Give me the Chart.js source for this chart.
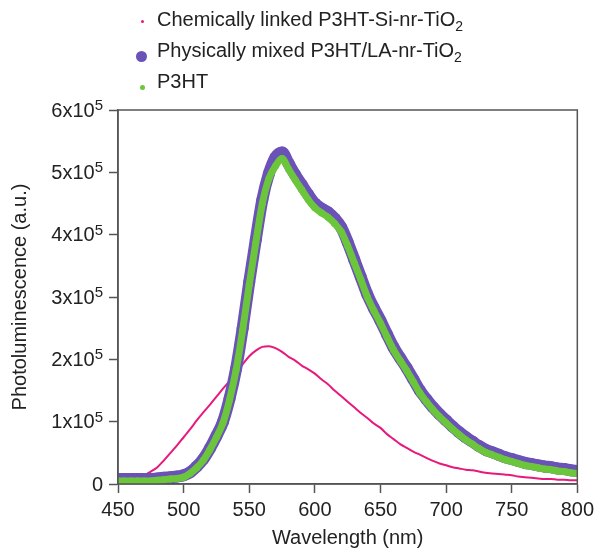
<!DOCTYPE html>
<html>
<head>
<meta charset="utf-8">
<script src="https://cdn.jsdelivr.net/npm/chart.js@4.4.1/dist/chart.umd.min.js"></script>
<style>
  html, body { margin:0; padding:0; background:#fff; }
  #wrap { position:relative; width:599px; height:550px; font-family:"Liberation Sans", Arial, Helvetica, sans-serif; }
  #legend { position:absolute; left:0; top:4px; font-size:20px; color:#222; }
  #legend .row { position:relative; height:31px; line-height:31px; padding-left:157px; white-space:nowrap; }
  #legend .dot { position:absolute; border-radius:50%; }
  #legend sub { font-size:14px; vertical-align:-5px; line-height:0; }
</style>
</head>
<body>
<div id="wrap">
  <canvas id="plChart" width="599" height="550"></canvas>
  <div id="legend">
    <div class="row"><span class="dot" style="left:141px;top:16px;width:3px;height:3px;background:#e8197c"></span>Chemically linked P3HT-Si-nr-TiO<sub>2</sub></div>
    <div class="row"><span class="dot" style="left:136px;top:16px;width:11px;height:11px;background:#6a52b8"></span>Physically mixed P3HT/LA-nr-TiO<sub>2</sub></div>
    <div class="row"><span class="dot" style="left:140px;top:19px;width:5px;height:5px;background:#6cc63c"></span>P3HT</div>
  </div>
</div>
<script>
// wavelength grid (nm) and intensities in units of 1x10^5
const wavelength = [450,455,460,465,470,475,480,485,490,495,500,505,510,515,520,525,530,535,540,545,550,555,560,565,570,575,580,585,590,595,600,605,610,615,620,625,630,635,640,645,650,655,660,665,670,675,680,685,690,695,700,705,710,715,720,725,730,735,740,745,750,755,760,765,770,775,780,785,790,795,800];

const chemLinked = [0.02,0.02,0.04,0.08,0.14,0.20,0.27,0.38,0.50,0.62,0.75,0.88,1.02,1.15,1.27,1.40,1.53,1.65,1.78,1.92,2.05,2.14,2.20,2.21,2.18,2.12,2.04,1.98,1.90,1.84,1.77,1.68,1.60,1.50,1.41,1.32,1.23,1.14,1.06,0.97,0.90,0.80,0.72,0.64,0.58,0.52,0.47,0.42,0.37,0.33,0.30,0.27,0.25,0.23,0.22,0.20,0.18,0.17,0.16,0.15,0.14,0.12,0.11,0.10,0.09,0.08,0.08,0.07,0.07,0.06,0.06];

const physMixed = [0.08,0.08,0.08,0.08,0.08,0.08,0.09,0.10,0.11,0.12,0.14,0.19,0.28,0.40,0.57,0.77,1.00,1.37,1.85,2.50,3.24,3.92,4.56,4.98,5.24,5.32,5.14,4.96,4.80,4.64,4.50,4.42,4.36,4.26,4.12,3.88,3.60,3.32,3.04,2.82,2.62,2.40,2.19,2.02,1.86,1.68,1.50,1.36,1.23,1.12,1.02,0.92,0.83,0.75,0.68,0.61,0.55,0.51,0.47,0.43,0.40,0.37,0.34,0.32,0.30,0.28,0.27,0.25,0.24,0.22,0.21];

const p3ht = [0.05,0.05,0.05,0.05,0.05,0.05,0.06,0.07,0.08,0.09,0.11,0.17,0.26,0.38,0.55,0.75,0.98,1.35,1.83,2.47,3.20,3.87,4.50,4.90,5.10,5.22,5.05,4.88,4.72,4.56,4.43,4.35,4.28,4.18,4.05,3.82,3.55,3.28,3.00,2.78,2.58,2.36,2.15,1.98,1.82,1.64,1.46,1.32,1.19,1.08,0.98,0.88,0.79,0.71,0.64,0.57,0.51,0.47,0.43,0.39,0.36,0.33,0.30,0.28,0.26,0.24,0.23,0.21,0.20,0.18,0.17];

const xTicks = [450,500,550,600,650,700,750,800];
const yTicks = [0,1,2,3,4,5,6];

const toPoints = vals => vals.map((v,i)=>({x: wavelength[i], y: v}));

const axisColor = '#555';
const fontFamily = '"Liberation Sans", Arial, Helvetica, sans-serif';

// box edges + y labels written as Nx10 with a raised 5
const frame = {
  id: 'frame',
  afterDraw(chart) {
    const {ctx, chartArea: a} = chart;
    ctx.save();
    ctx.strokeStyle = axisColor;
    ctx.lineWidth = 1.5;
    ctx.strokeRect(a.left, a.top, a.right - a.left, a.bottom - a.top);

    const ys = chart.scales.y;
    const right = a.left - 15;
    ctx.fillStyle = '#222';
    yTicks.forEach(v => {
      const py = ys.getPixelForValue(v);
      if (v === 0) {
        ctx.font = '20px ' + fontFamily;
        ctx.textAlign = 'right';
        ctx.textBaseline = 'middle';
        ctx.fillText('0', right, py + 1);
        return;
      }
      ctx.font = '15px ' + fontFamily;
      const supW = ctx.measureText('5').width;
      ctx.textAlign = 'right';
      ctx.textBaseline = 'alphabetic';
      ctx.fillText('5', right, py);
      ctx.font = '20px ' + fontFamily;
      ctx.textBaseline = 'middle';
      ctx.fillText(v + 'x10', right - supW, py + 1);
    });
    ctx.restore();
  }
};

const ctx = document.getElementById('plChart').getContext('2d');
new Chart(ctx, {
  type: 'line',
  data: {
    datasets: [
      {
        label: 'P3HT',
        data: toPoints(p3ht),
        borderColor: '#6cc63c',
        backgroundColor: '#6cc63c',
        borderWidth: 7,
        pointRadius: 3.5,
        pointBorderWidth: 0,
        order: 0
      },
      {
        label: 'Physically mixed P3HT/LA-nr-TiO2',
        data: toPoints(physMixed),
        borderColor: '#6a52b8',
        backgroundColor: '#6a52b8',
        borderWidth: 12,
        pointRadius: 6,
        pointBorderWidth: 0,
        order: 1
      },
      {
        label: 'Chemically linked P3HT-Si-nr-TiO2',
        data: toPoints(chemLinked),
        borderColor: '#e8197c',
        borderWidth: 2,
        pointRadius: 0,
        order: 2
      }
    ]
  },
  options: {
    responsive: false,
    animation: false,
    cubicInterpolationMode: 'monotone',
    layout: { padding: { top: 110, right: 18, left: 0, bottom: 0 } },
    plugins: { legend: { display: false }, tooltip: { enabled: false } },
    scales: {
      x: {
        type: 'linear',
        min: 450, max: 800,
        afterFit: s => { s.height = 66; },
        afterBuildTicks: s => { s.ticks = xTicks.map(v => ({value: v})); },
        ticks: { autoSkip: false, maxRotation: 0, padding: 5, color: '#222', font: { size: 20, family: fontFamily } },
        grid: { drawOnChartArea: false, drawTicks: true, tickLength: 9, tickColor: axisColor, tickWidth: 1.5 },
        border: { display: true, color: axisColor, width: 1.5 },
        title: { display: true, text: 'Wavelength (nm)', color: '#222', padding: { top: 0, bottom: 0 }, font: { size: 20, family: fontFamily } }
      },
      y: {
        min: 0, max: 6,
        afterFit: s => { s.width = 118; },
        afterBuildTicks: s => { s.ticks = yTicks.map(v => ({value: v})); },
        ticks: { display: false },
        grid: { drawOnChartArea: false, drawTicks: true, tickLength: 9, tickColor: axisColor, tickWidth: 1.5 },
        border: { display: true, color: axisColor, width: 1.5 },
        title: { display: true, text: 'Photoluminescence (a.u.)', color: '#222', padding: { top: 8, bottom: 0 }, font: { size: 20, family: fontFamily } }
      }
    }
  },
  plugins: [frame]
});
</script>
</body>
</html>
